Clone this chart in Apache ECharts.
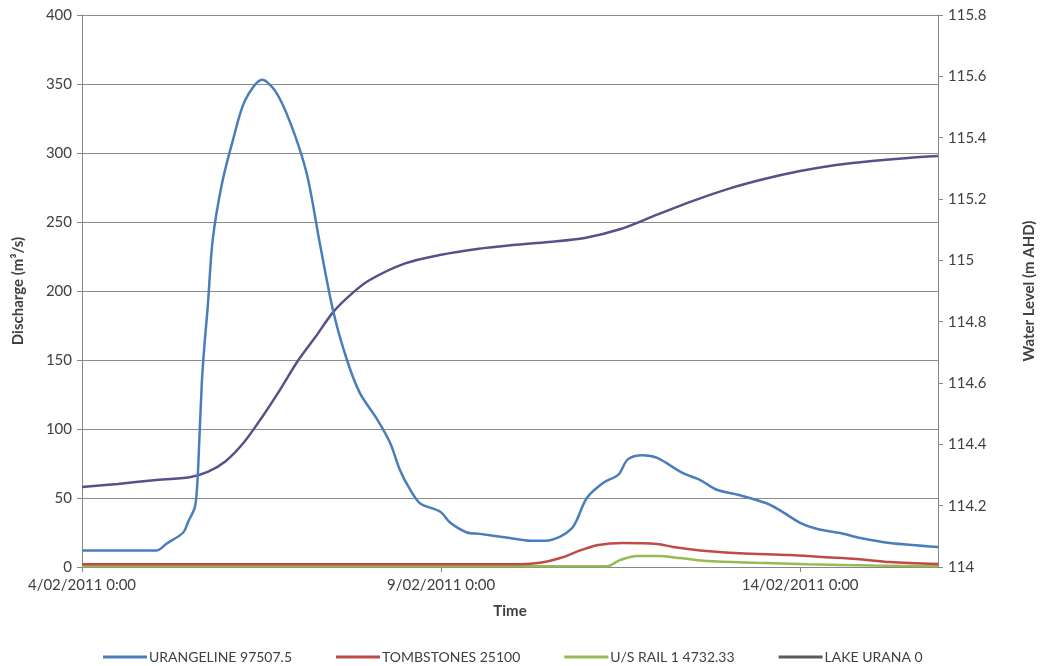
<!DOCTYPE html>
<html>
<head>
<meta charset="utf-8">
<script src="https://cdn.jsdelivr.net/npm/echarts@6/dist/echarts.min.js"></script>
<style>
  html, body { margin: 0; padding: 0; background: #ffffff; }
  #chart { width: 1045px; height: 666px; }
</style>
</head>
<body>
<div id="chart"></div>
<script>
// Time is measured in days after 4/02/2011 0:00.
const xTickDays = [0, 5, 10];
const xTickLabels = ['4/02/2011 0:00', '9/02/2011 0:00', '14/02/2011 0:00'];

const seriesNames = ['URANGELINE 97507.5', 'TOMBSTONES 25100', 'U/S RAIL 1 4732.33', 'LAKE URANA 0'];

// Discharge (m3/s) at URANGELINE
const urangelineDays = [0, 1.04, 1.18, 1.41, 1.48, 1.57, 1.60, 1.62, 1.67, 1.71, 1.75, 1.82, 1.95, 2.10, 2.27, 2.51, 2.69, 2.90, 3.13, 3.31, 3.50, 3.69, 3.87, 4.11, 4.29, 4.43, 4.57, 4.71, 4.99, 5.13, 5.36, 5.54, 5.96, 6.24, 6.45, 6.66, 6.82, 6.89, 7.03, 7.26, 7.47, 7.60, 7.81, 8.01, 8.37, 8.61, 8.84, 9.16, 9.54, 9.72, 10.0, 10.24, 10.56, 10.84, 11.25, 11.92];
const urangelineFlow = [12, 12, 17, 25, 33, 43, 56, 75, 135, 164, 188, 237, 278, 309, 338, 353, 345, 322, 285, 235, 185, 150, 126, 107, 90, 70, 56, 46, 40, 32, 25, 24, 21, 19, 19, 22, 28, 34, 50, 61, 67, 78, 81, 79, 68, 63, 56, 52, 46, 41, 32, 27.5, 24.6, 21, 17.4, 14.5];

// Discharge (m3/s) at TOMBSTONES
const tombstonesDays = [0, 6.10, 6.38, 6.66, 6.94, 7.19, 7.53, 8.01, 8.23, 8.61, 9.16, 9.86, 10.32, 10.79, 11.25, 11.92];
const tombstonesFlow = [2, 2, 3, 6.5, 12, 16, 17.4, 16.7, 14.5, 12, 10, 8.7, 7.2, 5.8, 3.6, 2.2];

// Discharge (m3/s) at U/S RAIL 1
const usRailDays = [0, 7.31, 7.49, 7.73, 8.01, 8.33, 8.70, 9.40, 10.10, 11.02, 11.92];
const usRailFlow = [0.5, 0.5, 5, 8, 8, 6.5, 4.3, 3, 2, 1, 0.5];

// Water level (m AHD) in LAKE URANA
const lakeDays = [0, 0.5, 1.0, 1.5, 1.75, 2.0, 2.25, 2.5, 2.75, 3.0, 3.25, 3.5, 3.75, 4.0, 4.5, 5.0, 5.5, 6.0, 6.5, 7.0, 7.5, 8.0, 8.5, 9.0, 9.5, 10.0, 10.5, 11.0, 11.5, 11.92];
const lakeLevel = [114.261, 114.271, 114.283, 114.293, 114.310, 114.345, 114.405, 114.486, 114.575, 114.670, 114.750, 114.832, 114.890, 114.935, 114.990, 115.018, 115.037, 115.050, 115.060, 115.073, 115.102, 115.148, 115.193, 115.233, 115.265, 115.291, 115.311, 115.324, 115.334, 115.340];

const colors = ['#4a7ebb', '#be4b48', '#98b954', '#5a5089'];
const legendIconColors = ['#4a7ebb', '#be4b48', '#98b954', '#5a5a5a'];

const pair = (xs, ys) => xs.map((x, i) => [x, ys[i]]);

const font = 'Lato, "Open Sans", sans-serif';
const textColor = '#404040';

function lineSeries(idx, data, yAxisIndex) {
  return {
    name: seriesNames[idx],
    type: 'line',
    yAxisIndex: yAxisIndex,
    data: data,
    smooth: 0.3,
    showSymbol: false,
    symbol: 'none',
    lineStyle: { color: colors[idx], width: 2.5 },
    itemStyle: { color: colors[idx] },
    z: idx === 3 ? 3 : 4 - idx
  };
}

const chart = echarts.init(document.getElementById('chart'), null, { renderer: 'canvas' });
chart.setOption({
  animation: false,
  backgroundColor: '#ffffff',
  textStyle: { fontFamily: font },
  grid: { left: 82, right: 107, top: 15, bottom: 99, containLabel: false },
  legend: {
    left: 98,
    top: 645,
    icon: 'rect',
    itemWidth: 44,
    itemHeight: 3,
    itemGap: 44,
    textStyle: { fontFamily: font, fontSize: 14, color: textColor, padding: [0, 0, 0, -3] },
    data: seriesNames.map((n, i) => ({ name: n, itemStyle: { color: legendIconColors[i] } }))
  },
  xAxis: {
    type: 'value',
    min: 0,
    max: 11.92,
    name: 'Time',
    nameLocation: 'middle',
    nameGap: 37,
    nameTextStyle: { fontFamily: font, fontSize: 15, fontWeight: 'bold', color: textColor },
    axisLine: { show: true, onZero: false, lineStyle: { color: '#868686', width: 1 } },
    axisTick: { show: true, length: 5, customValues: xTickDays, lineStyle: { color: '#868686' } },
    axisLabel: {
      customValues: xTickDays,
      margin: 11,
      fontFamily: font,
      fontSize: 15,
      color: textColor,
      formatter: v => {
        const k = xTickDays.indexOf(v);
        return k >= 0 ? xTickLabels[k] : '';
      }
    },
    splitLine: { show: false }
  },
  yAxis: [
    {
      type: 'value',
      min: 0,
      max: 400,
      interval: 50,
      name: 'Discharge (m³/s)',
      nameLocation: 'middle',
      nameGap: 56,
      nameRotate: 90,
      nameTextStyle: { fontFamily: font, fontSize: 15, fontWeight: 'bold', color: textColor },
      axisLine: { show: true, lineStyle: { color: '#868686', width: 1 } },
      axisTick: { show: true, inside: false, length: 5, lineStyle: { color: '#868686' } },
      axisLabel: { margin: 10, fontFamily: font, fontSize: 15, color: textColor },
      splitLine: { show: true, lineStyle: { color: '#8c8c8c', width: 1 } }
    },
    {
      type: 'value',
      min: 114,
      max: 115.8,
      interval: 0.2,
      position: 'right',
      name: 'Water Level (m AHD)',
      nameLocation: 'middle',
      nameGap: 84,
      nameRotate: 90,
      nameTextStyle: { fontFamily: font, fontSize: 15, fontWeight: 'bold', color: textColor },
      axisLine: { show: true, lineStyle: { color: '#868686', width: 1 } },
      axisTick: { show: true, inside: false, length: 5, lineStyle: { color: '#868686' } },
      axisLabel: {
        margin: 10,
        fontFamily: font,
        fontSize: 15,
        color: textColor,
        formatter: v => String(Math.round(v * 10) / 10)
      },
      splitLine: { show: false }
    }
  ],
  series: [
    lineSeries(3, pair(lakeDays, lakeLevel), 1),
    lineSeries(0, pair(urangelineDays, urangelineFlow), 0),
    lineSeries(1, pair(tombstonesDays, tombstonesFlow), 0),
    lineSeries(2, pair(usRailDays, usRailFlow), 0)
  ]
});
</script>
</body>
</html>
